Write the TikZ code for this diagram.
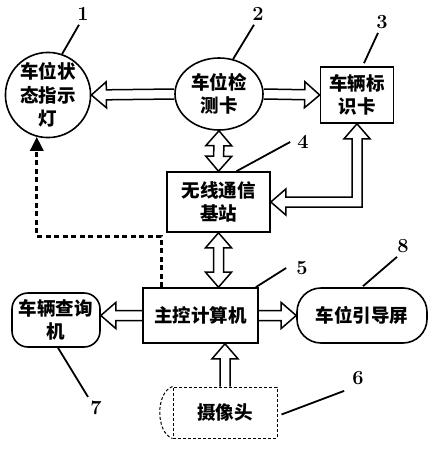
\documentclass[tikz,border=0pt]{standalone}
\usepackage{fontspec}
\newfontfamily\cjk{Noto Sans CJK SC}
\usetikzlibrary{shapes.geometric,calc,arrows.meta}
\tikzset{
  blk/.style={draw, line width=1.6pt, inner sep=0pt, align=center,
    font=\cjk\bfseries\fontsize{18.5}{23.5}\selectfont},
  num/.style={inner sep=0pt, font=\fontsize{20}{20}\selectfont\bfseries},
  lead/.style={line width=1.8pt},
  harrow/.style={draw, line width=1.5pt, line join=miter},
  dotline/.style={line width=3.2pt, dash pattern=on 5pt off 3.5pt},
}
\newcommand\sarrow[2]{%
  \path (#2) coordinate (hT) (#1) coordinate (hS);
  \path ($(hT)!15pt!(hS)$) coordinate (hH);
  \draw[harrow] ($(hS)!5pt!90:(hT)$) -- ($(hH)!5pt!90:(hT)$) -- ($(hH)!13pt!90:(hT)$) -- (hT)
    -- ($(hH)!13pt!-90:(hT)$) -- ($(hH)!5pt!-90:(hT)$) -- ($(hS)!5pt!-90:(hT)$);
}
\newcommand\darrow[2]{%
  \path (#1) coordinate (hA) (#2) coordinate (hB);
  \path ($(hA)!15pt!(hB)$) coordinate (hA2) ($(hB)!15pt!(hA)$) coordinate (hB2);
  \draw[harrow] (hA) -- ($(hA2)!13pt!90:(hB)$) -- ($(hA2)!5pt!90:(hB)$) -- ($(hB2)!5pt!-90:(hA)$)
    -- ($(hB2)!13pt!-90:(hA)$) -- (hB) -- ($(hB2)!13pt!90:(hA)$) -- ($(hB2)!5pt!90:(hA)$)
    -- ($(hA2)!5pt!-90:(hB)$) -- ($(hA2)!13pt!-90:(hB)$) -- cycle;
}
\begin{document}
\begin{tikzpicture}[x=1pt,y=-1pt]
\useasboundingbox (0,0) rectangle (437,450);
% nodes
\node[blk, circle, minimum size=80pt] (c1) at (48,95) {车位状\\态指示\\灯};
\node[blk, ellipse, minimum width=88pt, minimum height=72pt] (e2) at (219,94) {车位检\\测卡};
\node[blk, rectangle, minimum width=73pt, minimum height=56pt] (b3) at (357,95) {车辆标\\识卡};
\node[blk, rectangle, minimum width=103pt, minimum height=60pt] (b4) at (218.5,202) {无线通信\\基站};
\node[blk, rectangle, minimum width=115pt, minimum height=55pt] (b5) at (200.5,315.5) {主控计算机};
\node[blk, rectangle, rounded corners=16pt, minimum width=88pt, minimum height=54pt] (b7) at (56,320) {车辆查询\\机};
\node[blk, rectangle, rounded corners=24pt, minimum width=130pt, minimum height=55pt] (b8) at (362,315.5) {车位引导屏};
\node[blk, rectangle, densely dashed, line width=1pt, minimum width=104pt, minimum height=51pt] (cam) at (225,412.5) {摄像头};
\draw[densely dashed, line width=1pt] (cam.north west) .. controls ($(cam.north west)+(-17,6)$) and ($(cam.south west)+(-17,-6)$) .. (cam.south west);
% numbers
\node[num] (n1) at (83,14) {1};
\node[num] (n2) at (258,14) {2};
\node[num] (n3) at (382,22) {3};
\node[num] (n4) at (303,142) {4};
\node[num] (n5) at (302,268) {5};
\node[num] (n6) at (358,378) {6};
\node[num] (n7) at (96,408) {7};
\node[num] (n8) at (403,246) {8};
% leaders
\draw[lead] (c1.71) -- ($(n1.south)+(-4,4)$);
\draw[lead] (e2.68) -- ($(n2.south)+(-4,4)$);
\draw[lead] ($(b3.north)+(7,-3)$) -- ($(n3.south)+(-4,4)$);
\draw[lead] ($(b4.north)+(18,0)$) -- ($(n4.west)+(-7,0)$);
\draw[lead] ($(b5.north east)+(-3,0)$) -- ($(n5.west)+(-10,0)$);
\draw[lead] ($(b8.north)+(1,-1)$) -- ($(n8.south)+(-6,4)$);
\draw[lead] ($(cam.east)+(4,2)$) -- ($(n6.south west)+(-8,6)$);
\draw[lead] ($(b7.south)+(2,0)$) -- ($(n7.north)+(-8,-4)$);
% hollow arrows
\sarrow{e2.west}{c1.east}
\sarrow{e2.east}{b3.west}
\darrow{e2.south}{b4.north}
\darrow{b4.south}{b4.south |- b5.north}
\sarrow{b5.west}{b7.east |- b5.west}
\sarrow{b5.east}{b8.west |- b5.east}
\sarrow{cam.north}{cam.north |- b5.south}
% elbow double arrow between b3 and b4
\coordinate (t1) at (b3.south);
\coordinate (t2) at (b4.east);
\coordinate (cc) at (t1 |- t2);
\draw[harrow] (t1) -- ($(t1)+(13,15)$) -- ($(t1)+(5,15)$) -- ($(cc)+(5,5)$) -- ($(t2)+(15,5)$)
  -- ($(t2)+(15,13)$) -- (t2) -- ($(t2)+(15,-13)$) -- ($(t2)+(15,-5)$) -- ($(cc)+(-5,-5)$)
  -- ($(t1)+(-5,15)$) -- ($(t1)+(-13,15)$) -- cycle;
% dotted control line
\coordinate (dd) at ($(b5.north west)+(19,0)$);
\draw[dotline] (dd) -- ++(0,-51) -| ($(c1.255)+(0,14)$);
\draw[line width=3.2pt, -{Triangle[length=14pt,width=13pt]}] ($(c1.255)+(0,14)$) -- (c1.255);
\end{tikzpicture}
\end{document}
